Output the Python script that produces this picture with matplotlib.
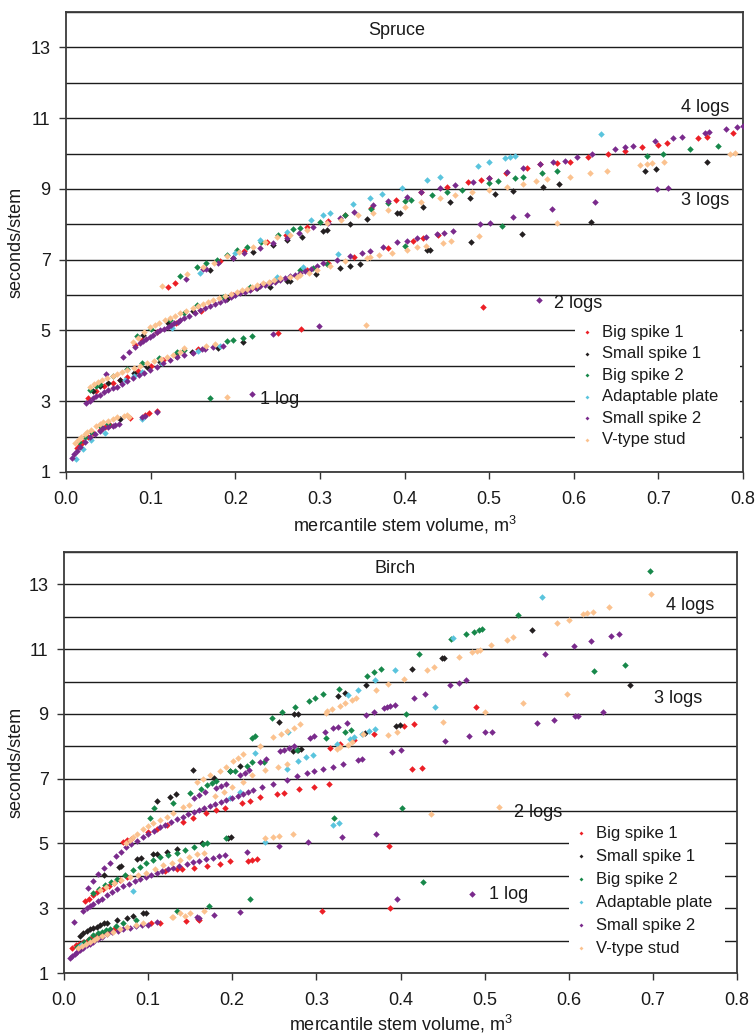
import numpy as np
import matplotlib
matplotlib.use("Agg")
import matplotlib.pyplot as plt

plt.rcParams["font.family"] = ["Liberation Sans", "DejaVu Sans"]
plt.rcParams["mathtext.default"] = "regular"

# ---- series definitions -------------------------------------------------
SERIES = ["Big spike 1", "Small spike 1", "Big spike 2",
          "Adaptable plate", "Small spike 2", "V-type stud"]
COLORS = ["#ec1f26", "#231f20", "#17884a", "#5ac4dd", "#7a2a8c", "#fbc28f"]

XTICKS = [0.0, 0.1, 0.2, 0.3, 0.4, 0.5, 0.6, 0.7, 0.8]
XTICK_LABELS = ["0.0", "0.1", "0.2", "0.3", "0.4", "0.5", "0.6", "0.7", "0.8"]
YTICKS = [1, 3, 5, 7, 9, 11, 13]
YGRID = [2, 4, 6, 8, 10, 12, 14]

# ---- Spruce: (volume m3, seconds/stem) ----------------------------------
spruce_big1 = [
    (0.013, 1.68), (0.017, 1.77), (0.02, 1.85), (0.026, 1.98), (0.032, 2.1), (0.04, 2.2),
    (0.046, 2.27), (0.052, 2.33), (0.076, 2.53), (0.093, 2.61), (0.098, 2.66), (0.108, 2.72),
    (0.026, 3.1), (0.036, 3.28), (0.045, 3.42), (0.055, 3.52), (0.064, 3.6), (0.072, 3.68),
    (0.085, 3.85), (0.1, 4.0), (0.115, 4.16), (0.13, 4.3), (0.156, 4.47), (0.25, 4.93),
    (0.278, 5.03), (0.493, 5.66),
    (0.082, 4.59), (0.09, 4.72), (0.108, 4.95), (0.13, 5.2), (0.16, 5.55), (0.197, 6.0),
    (0.22, 6.2), (0.25, 6.45), (0.285, 6.71), (0.31, 6.9), (0.34, 7.08), (0.38, 7.33),
    (0.41, 7.52), (0.422, 7.6), (0.44, 7.7),
    (0.12, 6.22), (0.129, 6.33), (0.182, 6.95), (0.21, 7.25), (0.237, 7.5), (0.26, 7.7),
    (0.285, 7.92), (0.31, 8.1), (0.33, 8.25), (0.36, 8.45), (0.39, 8.7), (0.42, 8.9),
    (0.45, 9.05), (0.475, 9.2), (0.49, 9.25), (0.5, 9.3), (0.52, 9.45), (0.545, 9.6),
    (0.56, 9.7), (0.58, 9.73), (0.596, 9.75), (0.617, 9.9), (0.64, 9.98), (0.66, 10.07),
    (0.681, 10.19), (0.7, 10.24), (0.71, 10.29), (0.747, 10.44), (0.758, 10.47), (0.788, 10.58),
]
spruce_small1 = [
    (0.064, 2.5),
    (0.032, 3.3), (0.04, 3.42), (0.05, 3.52), (0.064, 3.6), (0.08, 3.8), (0.096, 3.97),
    (0.111, 4.1), (0.13, 4.27), (0.149, 4.39), (0.18, 4.5), (0.209, 4.67),
    (0.091, 4.87), (0.12, 5.2), (0.15, 5.55), (0.19, 5.9), (0.226, 6.2), (0.241, 6.23),
    (0.261, 6.4), (0.265, 6.4), (0.295, 6.59), (0.324, 6.76), (0.336, 6.82), (0.347, 6.87),
    (0.426, 7.27), (0.43, 7.28), (0.479, 7.5), (0.539, 7.72), (0.62, 8.06),
    (0.17, 6.71), (0.197, 7.05), (0.221, 7.22), (0.245, 7.41), (0.261, 7.55), (0.279, 7.64),
    (0.304, 7.8), (0.308, 7.84), (0.336, 8.0), (0.356, 8.15), (0.391, 8.32), (0.395, 8.33),
    (0.422, 8.48), (0.454, 8.63), (0.477, 8.74), (0.507, 8.85), (0.528, 8.94), (0.564, 9.05),
    (0.582, 9.13), (0.684, 9.5), (0.697, 9.56), (0.757, 9.76),
]
spruce_big2 = [
    (0.015, 1.85), (0.022, 2.0), (0.03, 2.12), (0.041, 2.27), (0.05, 2.35), (0.17, 3.1),
    (0.028, 3.32), (0.035, 3.42), (0.04, 3.5), (0.055, 3.7), (0.072, 3.92), (0.09, 4.08),
    (0.11, 4.22), (0.131, 4.39), (0.14, 4.45), (0.19, 4.7), (0.197, 4.72), (0.209, 4.78),
    (0.22, 4.84),
    (0.084, 4.84), (0.1, 5.05), (0.123, 5.29), (0.14, 5.5), (0.155, 5.72), (0.186, 5.94),
    (0.217, 6.23), (0.25, 6.45), (0.277, 6.71), (0.292, 6.76), (0.308, 6.87), (0.4, 7.38),
    (0.515, 7.95),
    (0.135, 6.54), (0.155, 6.8), (0.165, 6.9), (0.178, 7.0), (0.19, 7.12), (0.202, 7.27),
    (0.214, 7.36), (0.23, 7.5), (0.25, 7.7), (0.268, 7.86), (0.277, 7.89), (0.3, 8.06),
    (0.33, 8.25), (0.36, 8.42), (0.38, 8.6), (0.4, 8.65), (0.408, 8.68), (0.432, 8.82),
    (0.45, 8.9), (0.468, 8.97), (0.5, 9.16), (0.51, 9.22), (0.53, 9.3), (0.54, 9.33),
    (0.563, 9.44), (0.58, 9.5), (0.686, 9.93), (0.705, 9.98), (0.737, 10.12), (0.77, 10.2),
]
spruce_plate = [
    (0.012, 1.37), (0.02, 1.65), (0.03, 1.9), (0.046, 2.1), (0.09, 2.5),
    (0.07, 3.6), (0.08, 3.72), (0.09, 3.82), (0.113, 4.08), (0.156, 4.42), (0.182, 4.56),
    (0.125, 5.07), (0.2, 6.0), (0.249, 6.51), (0.28, 6.79), (0.321, 7.16),
    (0.158, 6.62), (0.2, 7.2), (0.229, 7.55), (0.261, 7.78), (0.29, 8.12), (0.304, 8.26),
    (0.312, 8.32), (0.339, 8.57), (0.359, 8.74), (0.373, 8.86), (0.397, 9.02), (0.426, 9.25),
    (0.442, 9.33), (0.487, 9.64), (0.5, 9.76), (0.519, 9.87), (0.525, 9.9), (0.53, 9.93),
    (0.632, 10.55),
]
spruce_small2 = [
    (0.007, 1.4), (0.01, 1.52), (0.013, 1.6), (0.017, 1.7), (0.022, 1.85), (0.028, 1.99),
    (0.034, 2.08), (0.04, 2.17), (0.044, 2.24), (0.05, 2.28), (0.055, 2.3), (0.058, 2.33),
    (0.063, 2.37), (0.09, 2.55), (0.093, 2.58), (0.108, 2.7), (0.22, 3.2),
    (0.024, 2.95), (0.028, 3.02), (0.032, 3.1), (0.036, 3.15), (0.04, 3.18), (0.045, 3.27),
    (0.047, 3.78), (0.05, 3.33), (0.055, 3.38), (0.06, 3.4), (0.066, 3.5), (0.072, 3.57),
    (0.079, 3.65), (0.086, 3.73), (0.092, 3.8), (0.099, 3.88), (0.107, 3.98), (0.115, 4.08),
    (0.123, 4.17), (0.131, 4.25), (0.14, 4.3), (0.15, 4.37), (0.161, 4.47), (0.164, 4.48),
    (0.174, 4.53), (0.186, 4.56), (0.245, 4.9), (0.299, 5.12), (0.559, 5.86),
    (0.067, 4.25), (0.075, 4.4), (0.081, 4.52), (0.087, 4.64), (0.091, 4.7), (0.095, 4.75),
    (0.099, 4.82), (0.103, 4.88), (0.107, 4.95), (0.111, 5.01), (0.116, 5.05), (0.12, 5.1),
    (0.124, 5.15), (0.128, 5.2), (0.132, 5.25), (0.135, 5.29), (0.14, 5.35), (0.145, 5.4),
    (0.152, 5.5), (0.158, 5.58), (0.164, 5.63), (0.17, 5.68), (0.176, 5.74), (0.182, 5.8),
    (0.188, 5.87), (0.195, 5.95), (0.2, 6.0), (0.206, 6.06), (0.212, 6.1), (0.218, 6.15),
    (0.224, 6.2), (0.229, 6.25), (0.235, 6.29), (0.241, 6.33), (0.247, 6.38), (0.253, 6.42),
    (0.259, 6.48), (0.265, 6.55), (0.271, 6.58), (0.277, 6.62), (0.283, 6.68), (0.29, 6.75),
    (0.297, 6.82), (0.304, 6.9), (0.32, 7.0), (0.336, 7.1), (0.35, 7.2), (0.359, 7.24),
    (0.375, 7.35), (0.391, 7.5), (0.403, 7.53), (0.415, 7.6), (0.425, 7.65), (0.438, 7.72),
    (0.447, 7.76), (0.457, 7.8), (0.489, 8.0), (0.501, 8.03), (0.528, 8.2), (0.545, 8.26),
    (0.574, 8.43), (0.625, 8.63), (0.698, 9.0), (0.711, 9.02),
    (0.142, 6.45), (0.162, 6.73), (0.166, 6.75), (0.18, 6.9), (0.197, 7.05), (0.21, 7.2),
    (0.229, 7.33), (0.245, 7.47), (0.261, 7.6), (0.275, 7.75), (0.292, 7.92), (0.31, 8.05),
    (0.324, 8.18), (0.34, 8.35), (0.363, 8.54), (0.38, 8.65), (0.403, 8.77), (0.42, 8.9),
    (0.442, 9.02), (0.46, 9.1), (0.481, 9.19), (0.5, 9.3), (0.521, 9.47), (0.54, 9.58),
    (0.56, 9.7), (0.576, 9.77), (0.59, 9.8), (0.604, 9.9), (0.621, 9.98), (0.649, 10.12),
    (0.66, 10.19), (0.67, 10.2), (0.696, 10.35), (0.717, 10.43), (0.728, 10.46),
    (0.755, 10.58), (0.76, 10.6), (0.78, 10.7), (0.793, 10.76), (0.8, 10.78),
]
spruce_vstud = [
    (0.011, 1.82), (0.014, 1.9), (0.018, 2.0), (0.022, 2.07), (0.025, 2.13), (0.03, 2.2),
    (0.036, 2.3), (0.04, 2.36), (0.044, 2.41), (0.05, 2.45), (0.055, 2.5), (0.06, 2.55),
    (0.068, 2.58), (0.072, 2.6), (0.075, 2.55), (0.19, 3.12),
    (0.028, 3.4), (0.033, 3.48), (0.038, 3.55), (0.043, 3.6), (0.048, 3.65), (0.055, 3.72),
    (0.06, 3.78), (0.066, 3.82), (0.072, 3.88), (0.08, 3.95), (0.088, 4.0), (0.096, 4.07),
    (0.104, 4.13), (0.112, 4.2), (0.119, 4.25), (0.127, 4.32), (0.135, 4.39), (0.14, 4.5),
    (0.165, 4.55), (0.176, 4.61), (0.355, 5.15),
    (0.079, 4.67), (0.085, 4.8), (0.092, 4.95), (0.099, 5.1), (0.105, 5.16), (0.11, 5.22),
    (0.117, 5.29), (0.123, 5.35), (0.129, 5.42), (0.135, 5.48), (0.142, 5.55), (0.15, 5.63),
    (0.156, 5.69), (0.162, 5.75), (0.168, 5.8), (0.174, 5.86), (0.181, 5.92), (0.188, 5.97),
    (0.195, 6.03), (0.202, 6.08), (0.208, 6.13), (0.214, 6.18), (0.22, 6.23), (0.226, 6.28),
    (0.233, 6.33), (0.24, 6.38), (0.246, 6.43), (0.253, 6.48), (0.265, 6.52), (0.273, 6.5),
    (0.277, 6.56), (0.287, 6.63), (0.297, 6.7), (0.312, 6.82), (0.33, 6.95), (0.356, 7.04),
    (0.359, 7.07), (0.37, 7.12), (0.385, 7.19), (0.403, 7.27), (0.415, 7.36), (0.425, 7.4),
    (0.446, 7.48), (0.455, 7.52), (0.488, 7.67), (0.58, 8.03),
    (0.113, 6.25), (0.143, 6.6), (0.162, 6.8), (0.175, 6.9), (0.19, 7.1), (0.205, 7.22),
    (0.221, 7.36), (0.235, 7.5), (0.249, 7.64), (0.265, 7.7), (0.285, 7.84), (0.308, 8.03),
    (0.325, 8.13), (0.345, 8.25), (0.363, 8.32), (0.38, 8.4), (0.4, 8.5), (0.42, 8.62),
    (0.442, 8.74), (0.46, 8.82), (0.48, 8.9), (0.5, 8.97), (0.521, 9.05), (0.54, 9.15),
    (0.555, 9.22), (0.568, 9.28), (0.596, 9.33), (0.619, 9.45), (0.639, 9.5), (0.678, 9.67),
    (0.687, 9.7), (0.693, 9.72), (0.707, 9.77), (0.785, 10.0), (0.79, 10.02),
]

# ---- Birch: (volume m3, seconds/stem) -----------------------------------
birch_big1 = [
    (0.009, 1.76), (0.014, 1.85), (0.018, 1.9), (0.023, 1.97), (0.028, 2.03), (0.033, 2.1),
    (0.039, 2.17), (0.045, 2.22), (0.052, 2.28), (0.059, 2.35), (0.104, 2.54), (0.114, 2.54),
    (0.145, 2.6), (0.159, 2.67), (0.16, 2.63), (0.307, 2.9), (0.388, 3.02),
    (0.025, 3.21), (0.03, 3.3), (0.035, 3.42), (0.039, 3.5), (0.046, 3.6), (0.053, 3.7),
    (0.06, 3.78), (0.067, 3.87), (0.075, 3.95), (0.12, 4.15), (0.134, 4.2), (0.14, 4.22),
    (0.154, 4.25), (0.17, 4.3), (0.185, 4.36), (0.197, 4.47), (0.219, 4.46), (0.223, 4.5),
    (0.229, 4.52), (0.386, 4.92),
    (0.07, 5.05), (0.075, 5.1), (0.08, 5.15), (0.1, 5.35), (0.11, 5.45), (0.122, 5.56),
    (0.141, 5.66), (0.153, 5.79), (0.169, 5.94), (0.181, 6.03), (0.191, 6.11), (0.211, 6.24),
    (0.221, 6.32), (0.233, 6.42), (0.253, 6.53), (0.261, 6.57), (0.279, 6.68), (0.297, 6.75),
    (0.315, 6.85), (0.414, 7.3), (0.425, 7.34),
    (0.316, 7.96), (0.328, 8.06), (0.345, 8.19), (0.369, 8.37), (0.404, 8.62), (0.416, 8.69),
    (0.49, 9.22),
]
birch_small1 = [
    (0.019, 2.14), (0.023, 2.22), (0.027, 2.3), (0.031, 2.35), (0.035, 2.38), (0.039, 2.42),
    (0.043, 2.47), (0.047, 2.53), (0.051, 2.55), (0.063, 2.63), (0.075, 2.71), (0.082, 2.75),
    (0.094, 2.84), (0.097, 2.86),
    (0.047, 4.04), (0.065, 4.27), (0.068, 4.3), (0.087, 4.52), (0.092, 4.55), (0.106, 4.66),
    (0.11, 4.68), (0.122, 4.74), (0.134, 4.82), (0.164, 5.0), (0.195, 5.17), (0.198, 5.2),
    (0.11, 6.3), (0.126, 6.43), (0.133, 6.52), (0.153, 7.27), (0.178, 7.02), (0.197, 7.24),
    (0.209, 7.38), (0.255, 8.74), (0.273, 9.0), (0.278, 9.0), (0.326, 9.55), (0.334, 9.65),
    (0.359, 9.88), (0.414, 10.4), (0.449, 10.73), (0.452, 10.73), (0.556, 11.58), (0.673, 9.9),
    (0.272, 7.85), (0.278, 7.9), (0.282, 7.93), (0.358, 8.41), (0.395, 8.62), (0.399, 8.65),
]
birch_big2 = [
    (0.015, 1.8), (0.019, 1.86), (0.024, 1.95), (0.03, 2.05), (0.035, 2.17), (0.04, 2.22),
    (0.045, 2.28), (0.05, 2.32), (0.055, 2.37), (0.062, 2.45), (0.07, 2.53), (0.086, 2.63),
    (0.134, 2.92), (0.172, 3.08), (0.221, 3.27), (0.427, 3.8),
    (0.035, 3.46), (0.042, 3.6), (0.049, 3.72), (0.056, 3.8), (0.063, 3.9), (0.072, 4.02),
    (0.082, 4.17), (0.09, 4.28), (0.098, 4.4), (0.106, 4.5), (0.114, 4.58), (0.124, 4.65),
    (0.134, 4.71), (0.144, 4.8), (0.154, 4.9), (0.165, 4.98), (0.17, 5.0), (0.193, 5.16),
    (0.321, 5.8), (0.402, 6.1),
    (0.102, 5.8), (0.107, 6.1), (0.129, 6.24), (0.15, 6.55), (0.163, 6.67), (0.17, 6.8),
    (0.176, 6.88), (0.181, 6.92), (0.197, 7.23), (0.203, 7.23), (0.217, 7.38), (0.224, 7.51),
    (0.238, 7.53), (0.223, 8.27), (0.227, 8.33), (0.247, 8.88), (0.259, 9.07), (0.275, 9.2),
    (0.291, 9.4), (0.298, 9.5), (0.308, 9.6), (0.327, 9.77), (0.36, 10.18), (0.368, 10.28),
    (0.377, 10.38), (0.422, 10.85), (0.46, 11.3), (0.478, 11.46), (0.487, 11.53), (0.493, 11.6),
    (0.497, 11.63), (0.54, 12.07), (0.696, 13.4), (0.63, 10.33), (0.667, 10.52), (0.277, 7.9),
    (0.311, 8.27), (0.334, 8.45), (0.341, 8.5), (0.406, 8.99),
]
birch_plate = [
    (0.02, 1.85), (0.082, 3.52), (0.197, 6.4), (0.209, 6.6), (0.227, 7.8), (0.239, 5.06),
    (0.265, 7.3), (0.266, 8.43), (0.278, 7.54), (0.288, 7.68), (0.296, 7.72), (0.32, 5.57),
    (0.327, 5.62), (0.324, 8.06), (0.34, 8.24), (0.345, 8.28), (0.354, 8.38), (0.363, 8.46),
    (0.37, 8.52), (0.337, 9.58), (0.35, 9.74), (0.37, 10.05), (0.394, 10.37), (0.441, 9.22),
    (0.462, 11.35), (0.568, 12.62),
]
birch_small2 = [
    (0.007, 1.45), (0.01, 1.52), (0.013, 1.6), (0.016, 1.66), (0.019, 1.71), (0.023, 1.78),
    (0.027, 1.85), (0.031, 1.91), (0.035, 1.97), (0.04, 2.04), (0.045, 2.12), (0.051, 2.2),
    (0.057, 2.26), (0.064, 2.3), (0.07, 2.35), (0.078, 2.4), (0.086, 2.44), (0.093, 2.47),
    (0.1, 2.49), (0.11, 2.56), (0.012, 2.57), (0.158, 2.74), (0.16, 2.7), (0.178, 2.79),
    (0.209, 2.89), (0.396, 3.3), (0.485, 3.43),
    (0.023, 2.92), (0.027, 3.0), (0.031, 3.08), (0.035, 3.14), (0.04, 3.22), (0.045, 3.3),
    (0.051, 3.4), (0.057, 3.5), (0.063, 3.6), (0.07, 3.68), (0.077, 3.76), (0.084, 3.84),
    (0.09, 3.9), (0.097, 3.96), (0.104, 4.03), (0.11, 4.08), (0.117, 4.14), (0.124, 4.2),
    (0.13, 4.24), (0.137, 4.3), (0.146, 4.36), (0.153, 4.42), (0.161, 4.47), (0.169, 4.52),
    (0.177, 4.56), (0.184, 4.6), (0.191, 4.64), (0.217, 4.75), (0.255, 4.92), (0.29, 5.05),
    (0.331, 5.21), (0.371, 5.29),
    (0.028, 3.62), (0.034, 3.85), (0.041, 4.05), (0.048, 4.25), (0.055, 4.39), (0.062, 4.6),
    (0.068, 4.75), (0.074, 4.9), (0.08, 4.98), (0.087, 5.08), (0.094, 5.2), (0.1, 5.3),
    (0.107, 5.4), (0.114, 5.5), (0.12, 5.58), (0.127, 5.67), (0.134, 5.76), (0.141, 5.83),
    (0.147, 5.9), (0.154, 5.97), (0.16, 6.03), (0.167, 6.1), (0.174, 6.17), (0.18, 6.22),
    (0.187, 6.28), (0.193, 6.33), (0.2, 6.4), (0.207, 6.47), (0.213, 6.54), (0.219, 6.6),
    (0.225, 6.66), (0.235, 6.75), (0.249, 6.85), (0.265, 6.97), (0.277, 7.08), (0.289, 7.18),
    (0.297, 7.23), (0.308, 7.29), (0.32, 7.36), (0.332, 7.46), (0.35, 7.57), (0.354, 7.6),
    (0.39, 7.83), (0.4, 7.89), (0.453, 8.16), (0.481, 8.32), (0.5, 8.43), (0.509, 8.45),
    (0.562, 8.72), (0.582, 8.8), (0.607, 8.95), (0.611, 8.95), (0.641, 9.05),
    (0.154, 6.39), (0.161, 6.49), (0.168, 6.58), (0.181, 6.7), (0.187, 6.78), (0.193, 6.85),
    (0.209, 7.1), (0.215, 7.18), (0.22, 7.26), (0.233, 7.51), (0.24, 7.6), (0.257, 7.84),
    (0.262, 7.9), (0.267, 7.95), (0.273, 8.02), (0.292, 8.27), (0.297, 8.32), (0.31, 8.45),
    (0.32, 8.55), (0.326, 8.6), (0.336, 8.73), (0.359, 8.96), (0.368, 9.05), (0.38, 9.17),
    (0.384, 9.2), (0.388, 9.25), (0.394, 9.29), (0.416, 9.5), (0.429, 9.6), (0.459, 9.89),
    (0.47, 9.96), (0.478, 10.04), (0.572, 10.85), (0.606, 11.1), (0.626, 11.24),
    (0.65, 11.42), (0.66, 11.46),
]
birch_vstud = [
    (0.017, 1.76), (0.021, 1.83), (0.026, 1.9), (0.031, 1.96), (0.036, 2.02), (0.039, 2.07),
    (0.045, 2.13), (0.051, 2.2), (0.058, 2.26), (0.067, 2.35), (0.075, 2.42), (0.085, 2.48),
    (0.094, 2.53), (0.128, 2.73), (0.13, 2.74), (0.138, 2.84), (0.144, 2.76), (0.15, 2.86),
    (0.166, 2.92),
    (0.043, 3.56), (0.05, 3.66), (0.059, 3.77), (0.068, 3.86), (0.078, 3.96), (0.088, 4.03),
    (0.098, 4.1), (0.108, 4.22), (0.118, 4.32), (0.128, 4.4), (0.138, 4.48), (0.148, 4.57),
    (0.158, 4.66), (0.166, 4.71), (0.239, 5.16), (0.249, 5.21), (0.255, 5.23), (0.272, 5.3),
    (0.436, 5.92), (0.517, 6.13),
    (0.074, 5.0), (0.078, 5.1), (0.082, 5.2), (0.087, 5.3), (0.094, 5.45), (0.1, 5.55),
    (0.106, 5.63), (0.114, 5.72), (0.122, 5.82), (0.13, 5.95), (0.141, 6.13), (0.148, 6.2),
    (0.18, 6.46), (0.19, 6.6), (0.2, 6.75), (0.213, 6.9), (0.224, 7.1), (0.239, 7.26),
    (0.254, 7.37), (0.265, 7.45), (0.324, 7.91), (0.328, 7.97), (0.337, 8.04), (0.342, 8.12),
    (0.355, 8.37), (0.385, 8.35), (0.396, 8.44), (0.45, 8.75), (0.5, 9.06), (0.546, 9.33),
    (0.598, 9.6),
    (0.158, 6.9), (0.165, 7.0), (0.174, 7.1), (0.185, 7.25), (0.193, 7.36), (0.201, 7.54),
    (0.207, 7.65), (0.213, 7.77), (0.233, 8.02), (0.249, 8.28), (0.258, 8.38), (0.265, 8.47),
    (0.273, 8.57), (0.281, 8.68), (0.312, 9.02), (0.313, 9.08), (0.318, 9.15), (0.328, 9.25),
    (0.334, 9.35), (0.342, 9.42), (0.347, 9.49), (0.371, 9.75), (0.385, 9.91), (0.404, 10.08),
    (0.431, 10.37), (0.44, 10.46), (0.469, 10.77), (0.485, 10.9), (0.491, 10.95),
    (0.495, 10.98), (0.508, 11.13), (0.527, 11.29), (0.534, 11.36), (0.586, 11.8), (0.6, 11.9),
    (0.617, 12.08), (0.622, 12.11), (0.629, 12.15), (0.648, 12.3), (0.698, 12.7),
]

spruce_notes = [("Spruce", 0.391, 13.49), ("4 logs", 0.755, 11.31), ("3 logs", 0.755, 8.68),
                ("2 logs", 0.605, 5.75), ("1 log", 0.253, 3.06)]
birch_notes = [("Birch", 0.393, 13.50), ("4 logs", 0.744, 12.36), ("3 logs", 0.730, 9.49),
               ("2 logs", 0.5635, 5.97), ("1 log", 0.528, 3.41)]

spruce_series = [spruce_big1, spruce_small1, spruce_big2, spruce_plate, spruce_small2, spruce_vstud]
birch_series = [birch_big1, birch_small1, birch_big2, birch_plate, birch_small2, birch_vstud]

FS = 13
fig = plt.figure(figsize=(7.55, 10.34), dpi=100)
ax_top = fig.add_axes([66 / 755, 562 / 1034, 677 / 755, 460 / 1034])
ax_bot = fig.add_axes([64 / 755, 61 / 1034, 673 / 755, 421 / 1034])


def draw_panel(ax, series, notes, legend_box, label_spacing, xlab_y, ylab_x):
    for pts, name, col in zip(series, SERIES, COLORS):
        arr = np.array(pts)
        ax.scatter(arr[:, 0], arr[:, 1], s=11, marker="D", color=col,
                   linewidths=0, zorder=3, label=name)
    ax.set_xlim(0, 0.8)
    ax.set_ylim(1, 14)
    ax.set_xticks(XTICKS)
    ax.set_xticklabels(XTICK_LABELS)
    ax.set_yticks(YTICKS)
    ax.set_yticks(YGRID, minor=True)
    ax.set_axisbelow(True)
    ax.grid(True, axis="y", which="both", color="#1c1c1c", lw=1.0)
    ax.tick_params(axis="y", which="minor", length=0)
    ax.tick_params(axis="both", which="major", direction="out", length=5,
                   width=1.0, color="#333333", labelsize=FS, labelcolor="#1a1a1a")
    ax.tick_params(axis="x", pad=9)
    ax.tick_params(axis="y", pad=6)
    for sp in ax.spines.values():
        sp.set_linewidth(1.3)
        sp.set_color("#3a3a3a")
    for txt, x, y in notes:
        ax.text(x, y, txt, ha="center", va="center", fontsize=FS, color="#1a1a1a", zorder=4)
    ax.set_xlabel("mercantile stem volume, m$^3$", fontsize=FS, color="#1a1a1a")
    ax.xaxis.set_label_coords(0.5, xlab_y)
    ax.set_ylabel("seconds/stem", fontsize=FS, color="#1a1a1a")
    ax.yaxis.set_label_coords(ylab_x, 0.5)
    x0, y0, w, h = legend_box
    leg = ax.legend(loc="upper left", bbox_to_anchor=(x0, y0 - h, w, h), mode="expand",
                    frameon=True, fancybox=False, facecolor="white", edgecolor="none",
                    framealpha=1.0, fontsize=12, markerscale=0.6, handlelength=0.7,
                    handletextpad=0.55, labelspacing=label_spacing, borderpad=0.35,
                    borderaxespad=0.0, scatterpoints=1)
    for t in leg.get_texts():
        t.set_color("#1a1a1a")


draw_panel(ax_top, spruce_series, spruce_notes,
           ((575 - 66) / 677, (472 - 319) / 460, (740 - 575) / 677, 0.3), 0.39, -0.091, -0.062)
draw_panel(ax_bot, birch_series, birch_notes,
           ((569 - 64) / 673, (973 - 820) / 421, (725 - 569) / 673, 0.33), 0.48, -0.094, -0.059)

fig.savefig("out.png", dpi=100)
